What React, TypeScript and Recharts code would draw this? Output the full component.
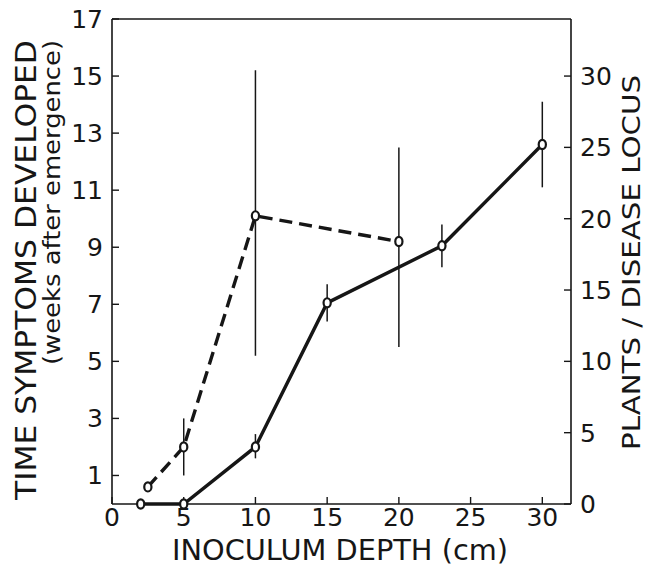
import React from "react";
import { LineChart, Line, XAxis, YAxis, ErrorBar } from "recharts";

// dashed series: time symptoms developed (weeks after emergence), left axis
const depthTime = [2.5, 5, 10, 20];
const timeWeeks = [0.6, 2.0, 10.1, 9.2];
const timeLow = [0.6, 1.0, 5.2, 5.5];
const timeHigh = [0.6, 3.0, 15.2, 12.5];

// solid series: plants / disease locus, right axis
const depthPlants = [2, 5, 10, 15, 23, 30];
const plantsPerLocus = [0, 0, 4.0, 14.1, 18.1, 25.2];
const plantsLow = [0, 0, 3.2, 12.8, 16.6, 22.2];
const plantsHigh = [0, 0, 4.9, 15.4, 19.6, 28.2];

const depthTicks = [0, 5, 10, 15, 20, 25, 30];
const weekTicks = [1, 3, 5, 7, 9, 11, 13, 15, 17];
const plantTicks = [0, 5, 10, 15, 20, 25, 30];

const timeData = depthTime.map((d, i) => ({
  depth: d,
  weeks: timeWeeks[i],
  err: [timeWeeks[i] - timeLow[i], timeHigh[i] - timeWeeks[i]],
}));

const plantData = depthPlants.map((d, i) => ({
  depth: d,
  plants: plantsPerLocus[i],
  err: [plantsPerLocus[i] - plantsLow[i], plantsHigh[i] - plantsPerLocus[i]],
}));

const font = "DejaVu Sans, sans-serif";
const ink = "#161616";
const tickStyle = { fontSize: 25, fill: ink, fontFamily: font };

const Ring = (p: any) => (
  <ellipse
    key={p.index}
    cx={p.cx}
    cy={p.cy}
    rx={3.6}
    ry={4.6}
    fill="#fff"
    stroke={ink}
    strokeWidth={2.2}
  />
);

export default function App() {
  return (
    <div style={{ position: "absolute", left: 0, top: 0, width: 645, height: 567, background: "#fff" }}>
      <LineChart
        width={645}
        height={567}
        margin={{ top: 18, right: 34, bottom: 33, left: 72 }}
      >
        <XAxis
          xAxisId="bottom"
          dataKey="depth"
          type="number"
          domain={[0, 32]}
          ticks={depthTicks}
          allowDataOverflow
          height={30}
          tickSize={-7}
          tickMargin={11}
          tick={tickStyle}
          axisLine={{ stroke: ink, strokeWidth: 1.6 }}
          tickLine={{ stroke: ink, strokeWidth: 1.4 }}
        />
        <XAxis
          xAxisId="top"
          orientation="top"
          dataKey="depth"
          type="number"
          domain={[0, 32]}
          ticks={depthTicks}
          height={1}
          tickSize={-7}
          tick={false}
          axisLine={{ stroke: ink, strokeWidth: 1.6 }}
          tickLine={{ stroke: ink, strokeWidth: 1.4 }}
        />
        <YAxis
          yAxisId="left"
          type="number"
          domain={[0, 17]}
          ticks={weekTicks}
          width={40}
          tickSize={-7}
          tickMargin={16}
          tick={tickStyle}
          axisLine={{ stroke: ink, strokeWidth: 1.6 }}
          tickLine={{ stroke: ink, strokeWidth: 1.4 }}
        />
        <YAxis
          yAxisId="right"
          orientation="right"
          type="number"
          domain={[0, 34]}
          ticks={plantTicks}
          width={40}
          tickSize={-7}
          tickMargin={16}
          tick={tickStyle}
          axisLine={{ stroke: ink, strokeWidth: 1.6 }}
          tickLine={{ stroke: ink, strokeWidth: 1.4 }}
        />
        <Line
          data={timeData}
          xAxisId="bottom"
          yAxisId="left"
          dataKey="weeks"
          stroke={ink}
          strokeWidth={3.4}
          strokeDasharray="13 7"
          dot={Ring}
          activeDot={false}
          isAnimationActive={false}
        >
          <ErrorBar dataKey="err" direction="y" width={0} stroke={ink} strokeWidth={1.5} />
        </Line>
        <Line
          data={plantData}
          xAxisId="bottom"
          yAxisId="right"
          dataKey="plants"
          stroke={ink}
          strokeWidth={3.4}
          dot={Ring}
          activeDot={false}
          isAnimationActive={false}
        >
          <ErrorBar dataKey="err" direction="y" width={0} stroke={ink} strokeWidth={1.5} />
        </Line>
      </LineChart>
      <svg width={645} height={567} style={{ position: "absolute", left: 0, top: 0, pointerEvents: "none" }}>
        <text
          transform="translate(36,40) rotate(-90)"
          textAnchor="end"
          fontFamily={font}
          fontSize={29}
          fill={ink}
          textLength={460}
          lengthAdjust="spacingAndGlyphs"
        >
          TIME SYMPTOMS DEVELOPED
        </text>
        <text
          transform="translate(60,40) rotate(-90)"
          textAnchor="end"
          fontFamily={font}
          fontSize={23}
          fill={ink}
          textLength={325}
          lengthAdjust="spacingAndGlyphs"
        >
          (weeks after emergence)
        </text>
        <text
          transform="translate(640,75) rotate(-90)"
          textAnchor="end"
          fontFamily={font}
          fontSize={25}
          fill={ink}
          textLength={375}
          lengthAdjust="spacingAndGlyphs"
        >
          PLANTS / DISEASE LOCUS
        </text>
        <text
          x={172}
          y={560}
          fontFamily={font}
          fontSize={28}
          fill={ink}
          textLength={336}
          lengthAdjust="spacingAndGlyphs"
        >
          INOCULUM DEPTH (cm)
        </text>
      </svg>
    </div>
  );
}
